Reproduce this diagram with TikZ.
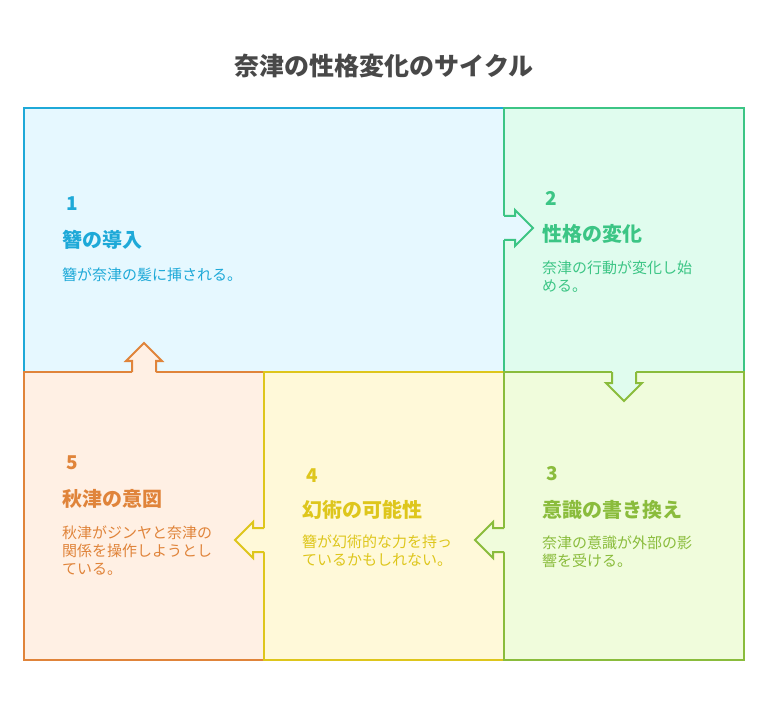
\documentclass[tikz,border=0pt]{standalone}
\usepackage{fontspec}
\setmainfont{Noto Sans CJK JP}
\definecolor{gristitre}{HTML}{484848}
\definecolor{ciel}{HTML}{1EA9D8}
\definecolor{cielfond}{HTML}{E6F8FF}
\definecolor{menthe}{HTML}{3CC585}
\definecolor{menthefond}{HTML}{E0FCEE}
\definecolor{pomme}{HTML}{8ABC3C}
\definecolor{pommefond}{HTML}{F0FCDC}
\definecolor{citron}{HTML}{DEC61C}
\definecolor{citronfond}{HTML}{FFF9D9}
\definecolor{abricot}{HTML}{E0843A}
\definecolor{abricotfond}{HTML}{FFF0E4}
\newcommand\fleche[4]{%
\begin{scope}[shift={#3},rotate=#4]
\fill[#1] (-1.2,-12) -- (11,-12) -- (11,-18) -- (29,0) -- (11,18) -- (11,12) -- (-1.2,12) -- cycle;
\draw[draw=#2,line width=2pt] (0,-12) -- (11,-12) -- (11,-18) -- (29,0) -- (11,18) -- (11,12) -- (0,12);
\end{scope}}
\begin{document}
\begin{tikzpicture}[x=1pt,y=-1pt]
\tikzstyle{trait}=[line width=2pt,line join=miter]
\tikzset{boite/.style={trait,draw=#1,fill=#1fond,inner sep=0pt,outer sep=0pt,anchor=north west},
boite/.default={ciel}}
\tikzset{numero/.style={anchor=west,inner sep=0pt,text=#1,font=\bfseries\fontsize{19}{19}\selectfont},
titrebox/.style={anchor=west,inner sep=0pt,text=#1,font=\bfseries\fontsize{20}{20}\selectfont},
texte/.style={anchor=west,inner sep=0pt,text=#1,align=left,font=\fontsize{15}{18}\selectfont}}
\useasboundingbox (0,0) rectangle (768,708);
\node[font=\bfseries\fontsize{25}{25}\selectfont,text=gristitre] (titre) at (384,66) {奈津の性格変化のサイクル};
% les cinq cases
\node[boite,minimum width=480pt,minimum height=264pt] (case1) at (24,108) {};
\node[boite=menthe,minimum width=240pt,minimum height=264pt] (case2) at (504,108) {};
\node[boite=abricot,minimum width=240pt,minimum height=288pt] (case5) at (24,372) {};
\node[boite=citron,minimum width=240pt,minimum height=288pt] (case4) at (264,372) {};
\node[boite=pomme,minimum width=240pt,minimum height=288pt] (case3) at (504,372) {};
% les fleches
\fleche{cielfond}{menthe}{(504,228)}{0}
\fleche{menthefond}{pomme}{(624,372)}{-90}
\fleche{pommefond}{pomme}{(504,540)}{180}
\fleche{citronfond}{citron}{(264,540)}{180}
\fleche{abricotfond}{abricot}{(144,372)}{90}
% textes
\node[numero=ciel] (num1) at (66,204) {1};
\node[titrebox=ciel] (titre1) at (62,240) {簪の導入};
\node[texte=ciel] (texte1) at (62,275) {簪が奈津の髪に挿される。};
\node[numero=menthe] (num2) at (545,198) {2};
\node[titrebox=menthe] (titre2) at (542,234) {性格の変化};
\node[texte=menthe] (texte2) at (542,277) {奈津の行動が変化し始\\める。};
\node[numero=pomme] (num3) at (546,474) {3};
\node[titrebox=pomme] (titre3) at (542,510) {意識の書き換え};
\node[texte=pomme] (texte3) at (542,552) {奈津の意識が外部の影\\響を受ける。};
\node[numero=citron] (num4) at (306,476) {4};
\node[titrebox=citron] (titre4) at (302,510) {幻術の可能性};
\node[texte=citron] (texte4) at (302,551) {簪が幻術的な力を持っ\\ているかもしれない。};
\node[numero=abricot] (num5) at (66,463) {5};
\node[titrebox=abricot] (titre5) at (62,499) {秋津の意図};
\node[texte=abricot] (texte5) at (62,551) {秋津がジンヤと奈津の\\関係を操作しようとし\\ている。};
\end{tikzpicture}
\end{document}
